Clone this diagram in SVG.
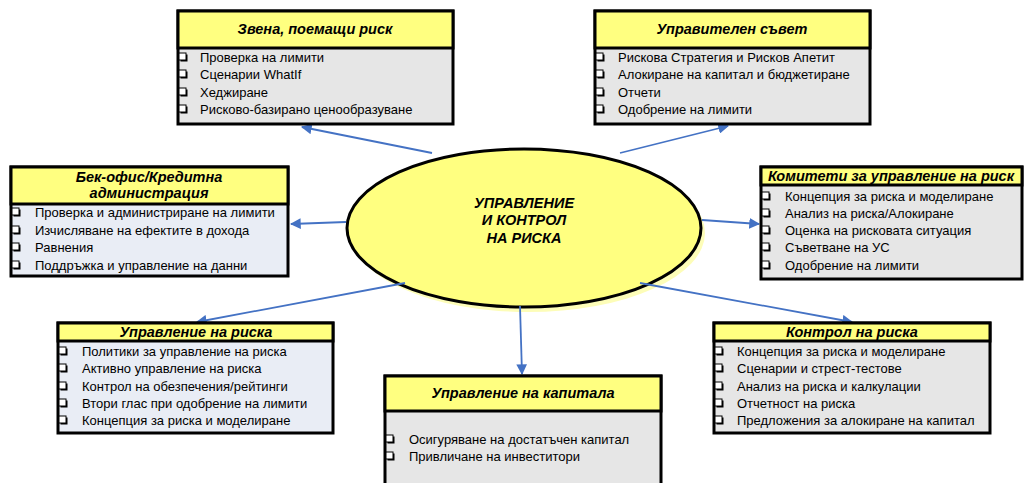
<svg xmlns="http://www.w3.org/2000/svg" xmlns:xlink="http://www.w3.org/1999/xlink" width="1026" height="483" viewBox="0 0 1026 483">
<defs>
<style>
.hdr{fill:#ffff80;stroke:#000;stroke-width:3}
.bg{fill:#e6e6e6;stroke:#000;stroke-width:3}
.bb{fill:#e9edf5;stroke:#000;stroke-width:3}
.t{font-family:"Liberation Sans",Arial,sans-serif;font-size:14.5px;font-weight:bold;font-style:italic;text-anchor:middle;fill:#000}
.i{font-family:"Liberation Sans",Arial,sans-serif;font-size:13px;fill:#000}
.c{stroke:#4472c4;stroke-width:1.8;fill:none;marker-end:url(#ah)}
</style>
<marker id="ah" viewBox="0 0 10 10" refX="9" refY="5" markerWidth="6" markerHeight="6" orient="auto" markerUnits="strokeWidth">
<path d="M0,0 L10,5 L0,10 z" fill="#4472c4"/>
</marker>
<g id="cb">
<rect x="2.5" y="1.5" width="7" height="7" fill="#000"/>
<rect x="1" y="0" width="7" height="7" fill="#fff" stroke="#000" stroke-width="1"/>
</g>
</defs>
<rect width="1026" height="483" fill="#fff"/>

<g id="center">
<ellipse cx="528" cy="233" rx="177" ry="79" fill="#fdfdb8"/>
<ellipse cx="524" cy="228" rx="177" ry="79" fill="#ffff80" stroke="#000" stroke-width="3"/>
<text class="t" x="524" y="208">УПРАВЛЕНИЕ</text>
<text class="t" x="524" y="225">И КОНТРОЛ</text>
<text class="t" x="524" y="243">НА РИСКА</text>
</g>

<g id="connectors">
<line class="c" x1="432" y1="153" x2="302" y2="127"/>
<line class="c" x1="620" y1="153" x2="728" y2="126"/>
<line class="c" x1="346" y1="222" x2="291" y2="224"/>
<line class="c" x1="702" y1="220" x2="759" y2="224"/>
<line class="c" x1="405" y1="283" x2="197" y2="322"/>
<line class="c" x1="520" y1="306" x2="522" y2="374"/>
<line class="c" x1="640" y1="283" x2="852" y2="322"/>
</g>

<g id="box1">
<rect class="bg" x="178" y="11" width="275" height="113"/>
<rect class="hdr" x="178" y="11" width="275" height="37"/>
<text class="t" x="315" y="34">Звена, поемащи риск</text>
<use xlink:href="#cb" x="178" y="53"/><text class="i" x="200" y="62">Проверка на лимити</text>
<use xlink:href="#cb" x="178" y="70"/><text class="i" x="200" y="79">Сценарии WhatIf</text>
<use xlink:href="#cb" x="178" y="88"/><text class="i" x="200" y="97">Хеджиране</text>
<use xlink:href="#cb" x="178" y="105"/><text class="i" x="200" y="114">Рисково-базирано ценообразуване</text>
</g>

<g id="box2">
<rect class="bg" x="595" y="11" width="275" height="113"/>
<rect class="hdr" x="595" y="11" width="275" height="37"/>
<text class="t" x="732" y="34">Управителен съвет</text>
<use xlink:href="#cb" x="595" y="53"/><text class="i" x="618" y="62">Рискова Стратегия и Рисков Апетит</text>
<use xlink:href="#cb" x="595" y="70"/><text class="i" x="618" y="79">Алокиране на капитал и бюджетиране</text>
<use xlink:href="#cb" x="595" y="88"/><text class="i" x="618" y="97">Отчети</text>
<use xlink:href="#cb" x="595" y="105"/><text class="i" x="618" y="114">Одобрение на лимити</text>
</g>

<g id="box3">
<rect class="bb" x="11" y="167" width="277" height="109"/>
<rect class="hdr" x="11" y="167" width="277" height="37"/>
<text class="t" x="149" y="182">Бек-офис/Кредитна</text>
<text class="t" x="149" y="198">администрация</text>
<use xlink:href="#cb" x="11" y="208"/><text class="i" x="35" y="217">Проверка и администриране на лимити</text>
<use xlink:href="#cb" x="11" y="226"/><text class="i" x="35" y="235">Изчисляване на ефектите в дохода</text>
<use xlink:href="#cb" x="11" y="243"/><text class="i" x="35" y="252">Равнения</text>
<use xlink:href="#cb" x="11" y="261"/><text class="i" x="35" y="270">Поддръжка и управление на данни</text>
</g>

<g id="box4">
<rect class="bg" x="761" y="167" width="261" height="112"/>
<rect class="hdr" x="761" y="167" width="261" height="18"/>
<text class="t" x="891" y="181">Комитети за управление на риск</text>
<use xlink:href="#cb" x="761" y="192"/><text class="i" x="785" y="201">Концепция за риска и моделиране</text>
<use xlink:href="#cb" x="761" y="209"/><text class="i" x="785" y="218">Анализ на риска/Алокиране</text>
<use xlink:href="#cb" x="761" y="226"/><text class="i" x="785" y="235">Оценка на рисковата ситуация</text>
<use xlink:href="#cb" x="761" y="243"/><text class="i" x="785" y="252">Съветване на УС</text>
<use xlink:href="#cb" x="761" y="261"/><text class="i" x="785" y="270">Одобрение на лимити</text>
</g>

<g id="box5">
<rect class="bb" x="58" y="323" width="275" height="110"/>
<rect class="hdr" x="58" y="323" width="275" height="18"/>
<text class="t" x="196" y="337">Управление на риска</text>
<use xlink:href="#cb" x="58" y="347"/><text class="i" x="82" y="356">Политики за управление на риска</text>
<use xlink:href="#cb" x="58" y="364"/><text class="i" x="82" y="373">Активно управление на риска</text>
<use xlink:href="#cb" x="58" y="382"/><text class="i" x="82" y="391">Контрол на обезпечения/рейтинги</text>
<use xlink:href="#cb" x="58" y="399"/><text class="i" x="82" y="408">Втори глас при одобрение на лимити</text>
<use xlink:href="#cb" x="58" y="416"/><text class="i" x="82" y="425">Концепция за риска и моделиране</text>
</g>

<g id="box6">
<rect class="bg" x="385" y="376" width="276" height="112"/>
<rect class="hdr" x="385" y="376" width="276" height="35"/>
<text class="t" x="523" y="398">Управление на капитала</text>
<use xlink:href="#cb" x="385" y="435"/><text class="i" x="409" y="444">Осигуряване на достатъчен капитал</text>
<use xlink:href="#cb" x="385" y="452"/><text class="i" x="409" y="461">Привличане на инвеститори</text>
</g>

<g id="box7">
<rect class="bg" x="714" y="323" width="276" height="110"/>
<rect class="hdr" x="714" y="323" width="276" height="18"/>
<text class="t" x="852" y="337">Контрол на риска</text>
<use xlink:href="#cb" x="714" y="347"/><text class="i" x="737" y="356">Концепция за риска и моделиране</text>
<use xlink:href="#cb" x="714" y="364"/><text class="i" x="737" y="373">Сценарии и стрест-тестове</text>
<use xlink:href="#cb" x="714" y="382"/><text class="i" x="737" y="391">Анализ на риска и калкулации</text>
<use xlink:href="#cb" x="714" y="399"/><text class="i" x="737" y="408">Отчетност на риска</text>
<use xlink:href="#cb" x="714" y="416"/><text class="i" x="737" y="425">Предложения за алокиране на капитал</text>
</g>
</svg>
